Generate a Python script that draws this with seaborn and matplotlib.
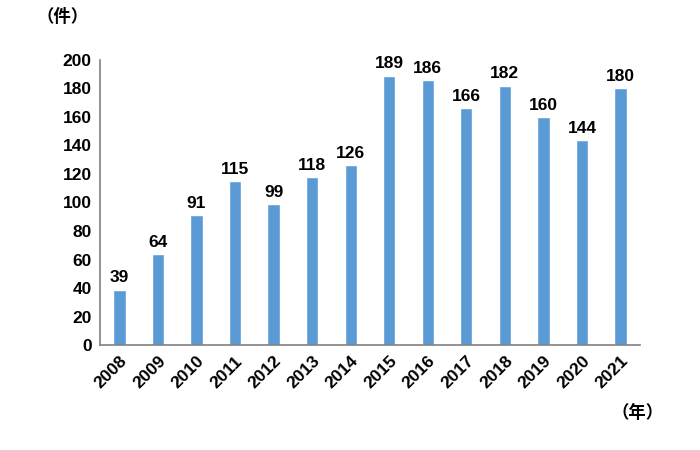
import matplotlib
matplotlib.use("Agg")
import matplotlib.pyplot as plt
import seaborn as sns
import pandas as pd

years = ["2008", "2009", "2010", "2011", "2012", "2013", "2014",
         "2015", "2016", "2017", "2018", "2019", "2020", "2021"]
counts = [39, 64, 91, 115, 99, 118, 126, 189, 186, 166, 182, 160, 144, 180]
yticks = [0, 20, 40, 60, 80, 100, 120, 140, 160, 180, 200]

sns.set_theme(style="white")
plt.rcParams['font.family'] = ['Liberation Sans', 'Noto Sans CJK JP', 'DejaVu Sans']
plt.rcParams['font.weight'] = 'bold'
plt.rcParams['text.color'] = 'black'
plt.rcParams['xtick.color'] = 'black'
plt.rcParams['ytick.color'] = 'black'

df = pd.DataFrame({"year": years, "count": counts})

fig = plt.figure(figsize=(7, 4.5), dpi=100)
ax = fig.add_axes([0.143, 0.233, 0.771, 0.634])
sns.barplot(data=df, x="year", y="count", color="#5B9BD5", width=0.32,
            saturation=1, ax=ax)

ax.set_ylim(0, 200)
ax.set_yticks(yticks)
ax.set_yticklabels([str(v) for v in yticks], fontsize=12.5, fontweight='bold',
                   color='black')
ax.set_xlim(-0.5, len(years) - 0.5)
ax.set_xticks(range(len(years)))
ax.set_xticklabels(years, rotation=45, ha='right', rotation_mode='anchor',
                   fontsize=12.5, fontweight='bold', color='black')
ax.tick_params(axis='both', length=0, pad=6)
ax.set_xlabel("")
ax.set_ylabel("")

for s in ["top", "right"]:
    ax.spines[s].set_visible(False)
for s in ["left", "bottom"]:
    ax.spines[s].set_color("#808080")
    ax.spines[s].set_linewidth(1.2)

for c in ax.containers:
    ax.bar_label(c, labels=[str(v) for v in counts], padding=3,
                 fontsize=12.5, fontweight='bold', color='black')

fig.text(0.052, 0.962, "（件）", fontsize=12.5, fontweight='bold',
         family=['Noto Sans CJK JP'], ha='left', va='center', color='black')
fig.text(0.948, 0.082, "（年）", fontsize=12.5, fontweight='bold',
         family=['Noto Sans CJK JP'], ha='right', va='center', color='black')

fig.savefig("out.png", dpi=100)
